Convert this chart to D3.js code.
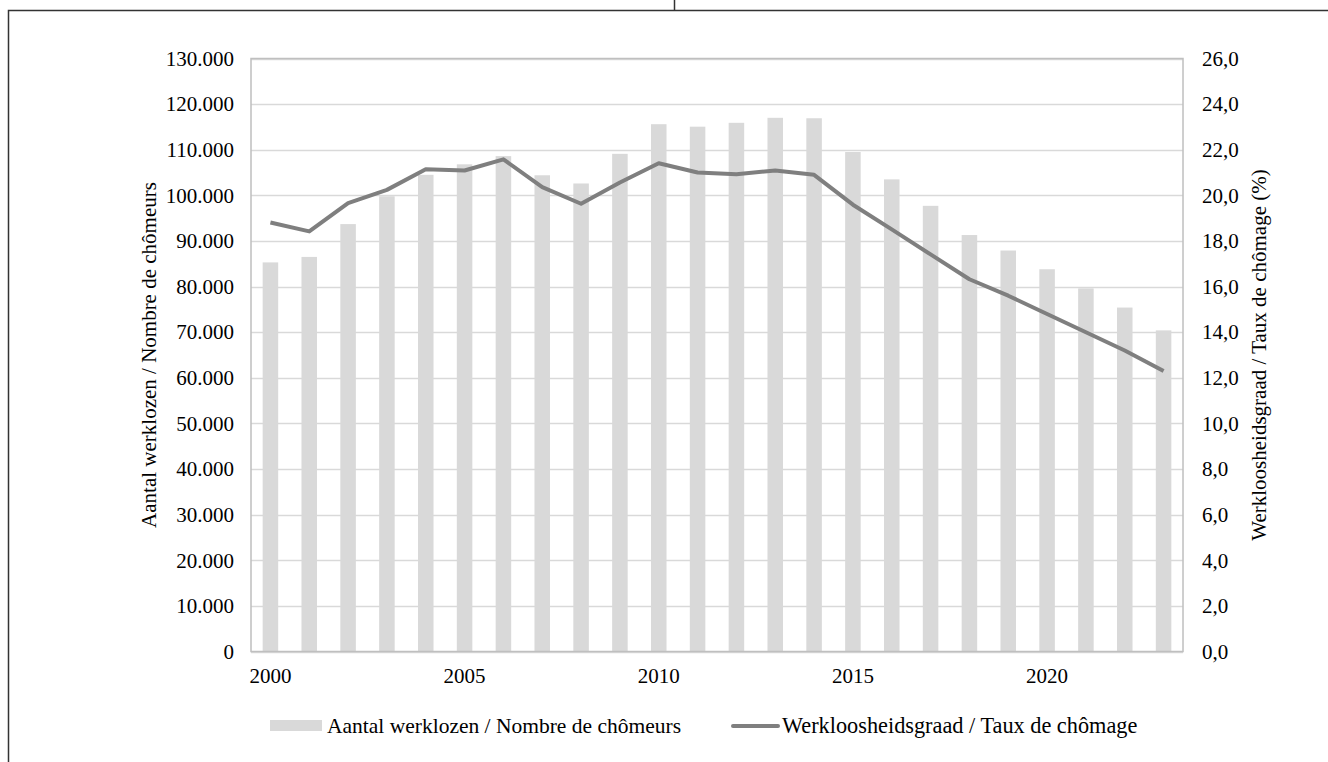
<!DOCTYPE html>
<html>
<head>
<meta charset="utf-8">
<script src="https://cdn.jsdelivr.net/npm/d3@7"></script>
<style>
html,body{margin:0;padding:0;background:#fff;}
svg{display:block;}
text{font-family:"Liberation Serif","Times New Roman",serif;fill:#000;}
</style>
</head>
<body>
<svg id="chart" width="1328" height="762"></svg>
<script>
const years = d3.range(2000, 2024);
const werklozen = [85300, 86500, 93700, 99800, 104500, 106800, 108600, 104400, 102600, 109100,
  115600, 115050, 115900, 117000, 116900, 109500, 103500, 97700, 91300, 87900,
  83800, 79600, 75400, 70400];
const graad = [18.81, 18.42, 19.66, 20.24, 21.14, 21.09, 21.58, 20.36, 19.63, 20.56,
  21.41, 21.0, 20.92, 21.09, 20.9, 19.59, 18.51, 17.41, 16.32, 15.6,
  14.8, 14.0, 13.2, 12.3];
const leftTicks = d3.range(0, 130001, 10000);
const rightTicks = d3.range(0, 26.01, 2);
const xTickYears = [2000, 2005, 2010, 2015, 2020];
const leftTitle = "Aantal werklozen / Nombre de chômeurs";
const rightTitle = "Werkloosheidsgraad / Taux de chômage (%)";
const legendBar = "Aantal werklozen / Nombre de chômeurs";
const legendLine = "Werkloosheidsgraad / Taux de chômage";

const FS = 21;
const svg = d3.select("#chart");
const L = 251, R = 1183, T = 58.5, B = 651.5;

// outer frame
svg.append("path").attr("d", "M8.5,762 V10.5 H1328").attr("fill", "none").attr("stroke", "#333").attr("stroke-width", 1.5);
svg.append("line").attr("x1", 674.5).attr("x2", 674.5).attr("y1", 0).attr("y2", 10.5).attr("stroke", "#333").attr("stroke-width", 1.5);

const x = d3.scaleBand().domain(years).range([L, R]).paddingInner(0.6).paddingOuter(0.3);
const yL = d3.scaleLinear().domain([0, 130000]).range([B, T]);
const yR = d3.scaleLinear().domain([0, 26]).range([B, T]);
const fmtL = d => d3.format(",")(d).replace(/,/g, ".");
const fmtR = d => d3.format(".1f")(d).replace(".", ",");

// gridlines
svg.append("g").selectAll("line").data(leftTicks).join("line")
  .attr("x1", L).attr("x2", R)
  .attr("y1", d => Math.round(yL(d)) + 0.5).attr("y2", d => Math.round(yL(d)) + 0.5)
  .attr("stroke", "#d9d9d9").attr("stroke-width", 1.5);

// bars
svg.append("g").selectAll("rect").data(years).join("rect")
  .attr("x", d => x(d)).attr("width", x.bandwidth())
  .attr("y", (d, i) => yL(werklozen[i])).attr("height", (d, i) => B - yL(werklozen[i]))
  .attr("fill", "#d9d9d9");

// plot frame
svg.append("rect").attr("x", L).attr("y", T).attr("width", R - L).attr("height", B - T)
  .attr("fill", "none").attr("stroke", "#bfbfbf").attr("stroke-width", 1.5);

// line
const line = d3.line().x((d, i) => x(years[i]) + x.bandwidth() / 2).y(d => yR(d));
svg.append("path").datum(graad).attr("d", line).attr("fill", "none")
  .attr("stroke", "#7f7f7f").attr("stroke-width", 4).attr("stroke-linejoin", "round");

// left axis
const axL = d3.axisLeft(yL).tickValues(leftTicks).tickFormat(fmtL).tickSize(0).tickPadding(0);
const gL = svg.append("g").attr("transform", `translate(${L - 17},0)`).call(axL);
gL.select(".domain").remove();
gL.attr("font-family", null).attr("font-size", null);
gL.selectAll("text").attr("font-size", FS).attr("fill", "#000");

// right axis
const axR = d3.axisRight(yR).tickValues(rightTicks).tickFormat(fmtR).tickSize(0).tickPadding(0);
const gR = svg.append("g").attr("transform", `translate(${R + 19},0)`).call(axR);
gR.select(".domain").remove();
gR.attr("font-family", null).attr("font-size", null);
gR.selectAll("text").attr("font-size", FS).attr("fill", "#000");

// x axis
const axX = d3.axisBottom(x).tickValues(xTickYears).tickSize(0).tickPadding(0);
const gX = svg.append("g").attr("transform", `translate(0,${B + 17})`).call(axX);
gX.select(".domain").remove();
gX.attr("font-family", null).attr("font-size", null);
gX.selectAll("text").attr("font-size", FS).attr("fill", "#000");

// axis titles
svg.append("text").attr("transform", `translate(156,${(T + B) / 2}) rotate(-90)`)
  .attr("text-anchor", "middle").attr("font-size", FS).text(leftTitle);
svg.append("text").attr("transform", `translate(1266,${(T + B) / 2}) rotate(-90)`)
  .attr("text-anchor", "middle").attr("font-size", FS).text(rightTitle);

// legend
svg.append("rect").attr("x", 270).attr("y", 720).attr("width", 52).attr("height", 11).attr("fill", "#d9d9d9");
svg.append("text").attr("x", 327).attr("y", 733).attr("font-size", 21.5).text(legendBar);
svg.append("line").attr("x1", 733).attr("x2", 778).attr("y1", 726).attr("y2", 726)
  .attr("stroke", "#7f7f7f").attr("stroke-width", 4).attr("stroke-linecap", "round");
svg.append("text").attr("x", 782).attr("y", 733).attr("font-size", 22.3).text(legendLine);
</script>
</body>
</html>
